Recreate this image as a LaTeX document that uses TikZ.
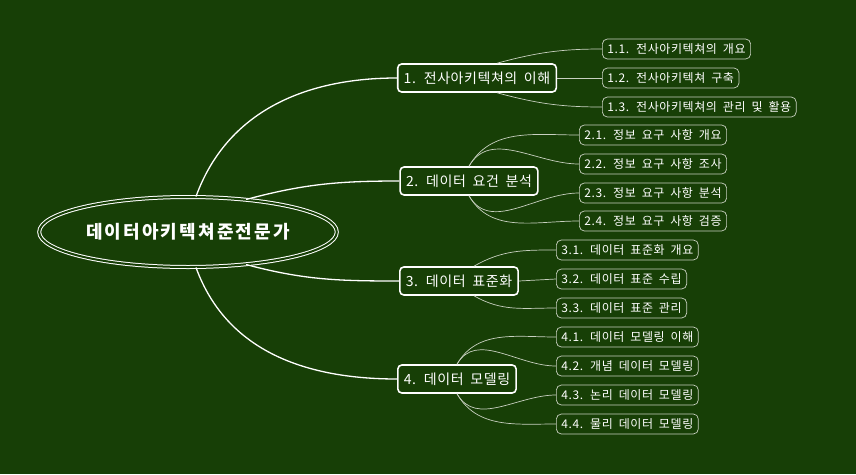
\documentclass[tikz,border=0pt]{standalone}
\usepackage{fontspec}
\setmainfont{Noto Sans CJK KR}[WordSpace=1.8]
\definecolor{bgGreen}{HTML}{173F06}
\definecolor{leafLine}{HTML}{C8D0C0}
\tikzset{
  root/.style={shape=ellipse, draw=white, double=bgGreen, double distance=2pt, line width=1pt,
    minimum width=284pt, minimum height=70pt, text=white,
    font=\fontsize{18}{20}\selectfont\bfseries\addfontfeatures{LetterSpace=12}},
  branch/.style={shape=rectangle, rounded corners=4pt, draw=white, line width=1.6pt,
    text=white, font=\fontsize{14}{16}\selectfont\addfontfeatures{LetterSpace=4}, minimum height=28pt, inner xsep=6pt},
  leaf/.style={shape=rectangle, rounded corners=5pt, draw=leafLine, line width=0.7pt,
    text=white, font=\fontsize{12}{14}\selectfont\addfontfeatures{LetterSpace=5}, minimum height=20pt, inner xsep=5pt, anchor=west},
  link/.style={draw=white, line width=1.3pt},
  twig/.style={draw=leafLine, line width=0.7pt}
}
\usetikzlibrary{shapes.geometric}
\begin{document}
\begin{tikzpicture}[x=1pt, y=-1pt]
    \fill[bgGreen] (0,0) rectangle (856,474);
    \useasboundingbox (0,0) rectangle (856,474);
    \node[root] at (188,232) (R) {데이터아키텍쳐준전문가};
    \node[branch] at (477,78) (B1) {1. 전사아키텍쳐의 이해};
    \node[branch] at (469,181) (B2) {2. 데이터 요건 분석};
    \node[branch] at (459,281) (B3) {3. 데이터 표준화};
    \node[branch] at (457,379) (B4) {4. 데이터 모델링};
    \node[leaf] at (602,49) (L11) {1.1. 전사아키텍쳐의 개요};
    \node[leaf] at (602,78) (L12) {1.2. 전사아키텍쳐 구축};
    \node[leaf] at (602,107) (L13) {1.3. 전사아키텍쳐의 관리 및 활용};
    \node[leaf] at (579,135) (L21) {2.1. 정보 요구 사항 개요};
    \node[leaf] at (579,164) (L22) {2.2. 정보 요구 사항 조사};
    \node[leaf] at (579,193) (L23) {2.3. 정보 요구 사항 분석};
    \node[leaf] at (579,221) (L24) {2.4. 정보 요구 사항 검증};
    \node[leaf] at (556,250) (L31) {3.1. 데이터 표준화 개요};
    \node[leaf] at (556,279) (L32) {3.2. 데이터 표준 수립};
    \node[leaf] at (556,308) (L33) {3.3. 데이터 표준 관리};
    \node[leaf] at (556,337) (L41) {4.1. 데이터 모델링 이해};
    \node[leaf] at (556,366) (L42) {4.2. 개념 데이터 모델링};
    \node[leaf] at (556,395) (L43) {4.3. 논리 데이터 모델링};
    \node[leaf] at (556,424) (L44) {4.4. 물리 데이터 모델링};
    % root to branches
    \path[link] (R.north) ++(8,0) to[out=70, in=180] (B1.west);
    \path[link] (R.north) ++(58,3) to[out=15, in=180] (B2.west);
    \path[link] (R.south) ++(58,-3) to[out=-15, in=180] (B3.west);
    \path[link] (R.south) ++(8,0) to[out=-70, in=180] (B4.west);
    % branches to leaves
    \path[twig] (B1.north) ++(20,0) to[out=15, in=180] (L11.west);
    \path[twig] (B1.east) -- (L12.west);
    \path[twig] (B1.south) ++(20,0) to[out=-15, in=180] (L13.west);
    \foreach \k in {1,2}
      \path[twig] (B2.north) to[out=60, in=180] (L2\k.west);
    \foreach \k in {3,4}
      \path[twig] (B2.south) to[out=-60, in=180] (L2\k.west);
    \path[twig] (B3.north) ++(15,0) to[out=30, in=180] (L31.west);
    \path[twig] (B3.east) -- (L32.west);
    \path[twig] (B3.south) ++(15,0) to[out=-30, in=180] (L33.west);
    \foreach \k in {1,2}
      \path[twig] (B4.north) to[out=60, in=180] (L4\k.west);
    \foreach \k in {3,4}
      \path[twig] (B4.south) to[out=-60, in=180] (L4\k.west);
\end{tikzpicture}
\end{document}
